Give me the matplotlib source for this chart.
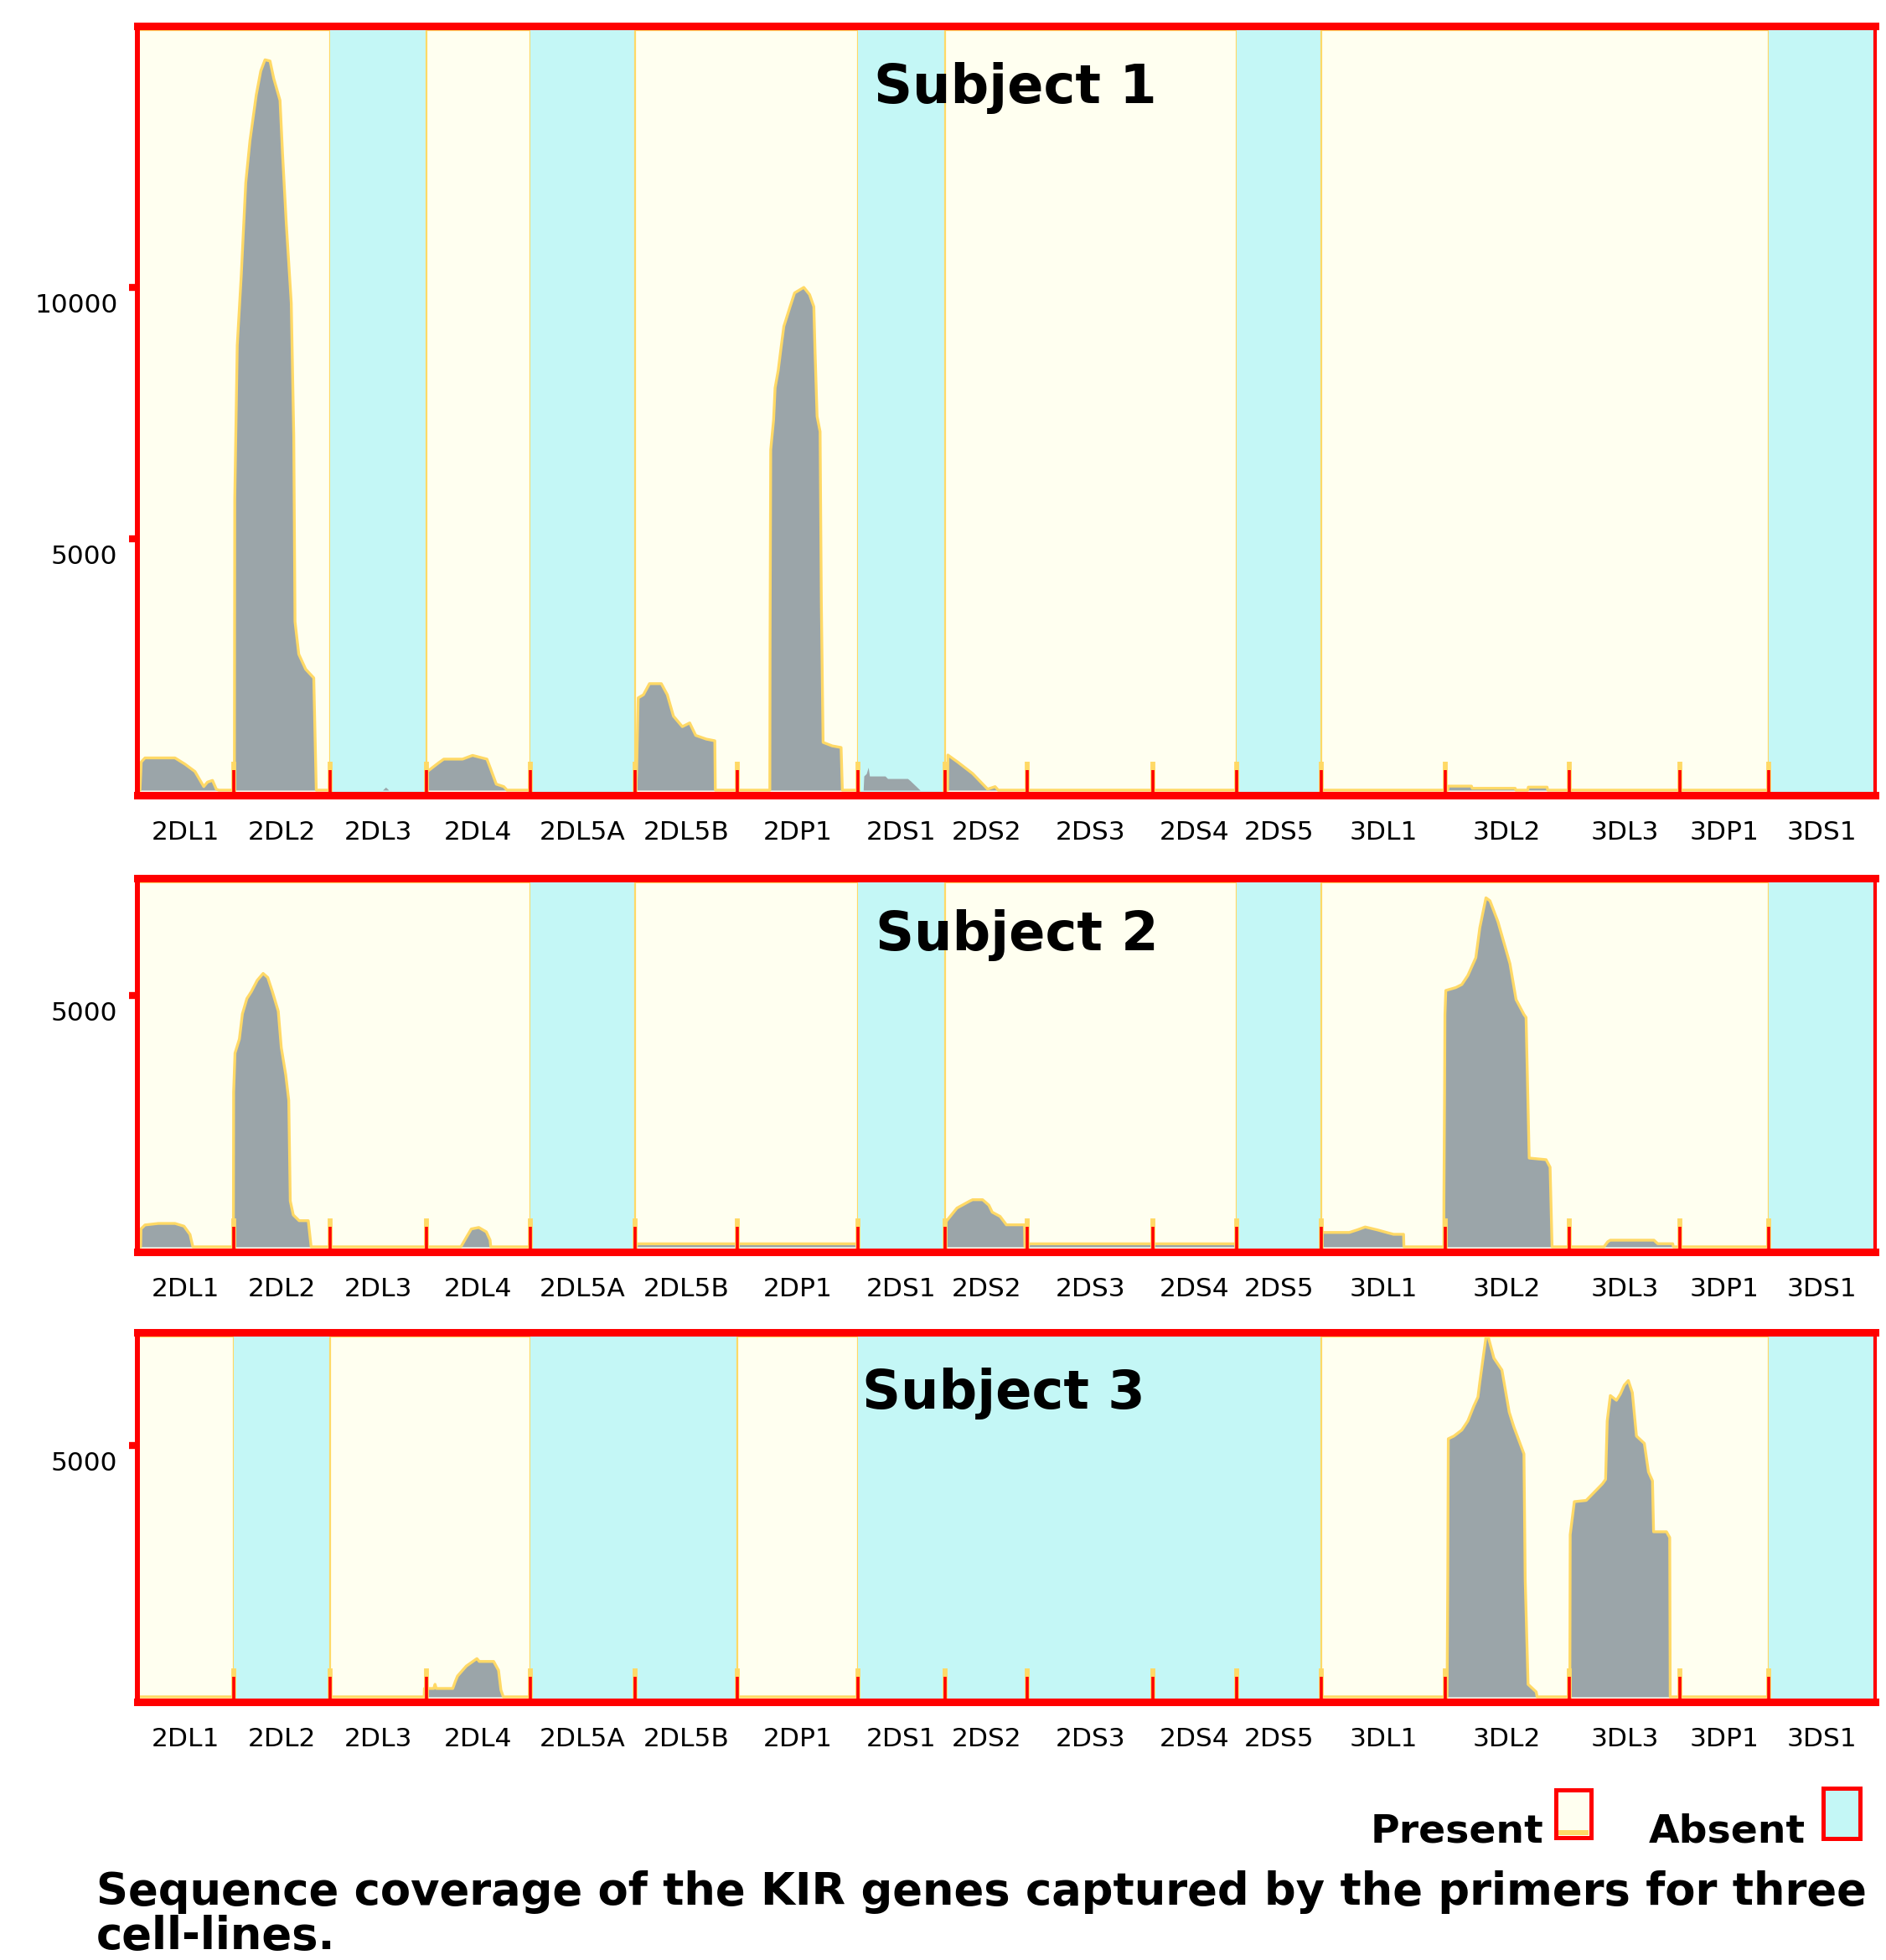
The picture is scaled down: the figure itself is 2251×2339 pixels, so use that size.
# Sequence coverage of the KIR genes for three cell-lines
import numpy as np
import matplotlib.pyplot as plt
from matplotlib.patches import Rectangle
from matplotlib.transforms import ScaledTranslation

genes = ["2DL1", "2DL2", "2DL3", "2DL4", "2DL5A", "2DL5B", "2DP1", "2DS1",
         "2DS2", "2DS3", "2DS4", "2DS5", "3DL1", "3DL2", "3DL3", "3DP1", "3DS1"]
# length of each gene on the concatenated reference (arbitrary units)
gene_len = [77, 77, 77, 83, 84, 82, 96, 70, 66, 100, 67, 68, 99, 99, 89, 71, 85]

# 1 = present, 0 = absent
present_s1 = [1, 1, 0, 1, 0, 1, 1, 0, 1, 1, 1, 0, 1, 1, 1, 1, 0]
present_s2 = [1, 1, 1, 1, 0, 1, 1, 0, 1, 1, 1, 0, 1, 1, 1, 1, 0]
present_s3 = [1, 0, 1, 1, 0, 0, 1, 0, 0, 0, 0, 0, 1, 1, 1, 1, 0]

# coverage profiles: position along reference, read depth
s1_pos = [0,
          2, 3, 6, 30, 38, 46, 53, 56, 60, 63, 65,
          77.5, 77.8, 79.8, 83, 86.6, 90, 95, 98.6, 102, 106, 109, 114, 116, 119, 123, 125, 126, 129, 134.5, 141, 143,
          196, 198.5, 201,
          231.5, 231.7, 240.8, 245, 260, 268, 279.5, 282, 287, 293, 295.6,
          398.6, 399.2, 400, 400.5, 404.7, 409.5, 419, 423.8, 428.7, 435.8, 441.7, 446.5, 455, 461.8, 462.2,
          505.8, 506, 506.5, 508.8, 510, 512.5, 515, 517, 522, 525.6, 533, 537.6, 541, 542, 543.6, 546, 547, 548.4, 555.7, 562.8, 563.8,
          580.5, 581, 583, 584.5, 585.5, 598, 600, 616, 618, 626,
          648, 648.2, 656, 668, 680, 686, 688.5,
          1048, 1048.5, 1067, 1067.6, 1102, 1102.5, 1112, 1112.5, 1127.5, 1128,
          1390]
s1_depth = [0,
            0, 560, 641, 641, 517, 370, 70, 160, 194, 20, 0,
            0, 5787, 8845, 10240, 12079, 12924, 13827, 14302, 14526, 14501, 14153, 13718, 12670, 11278, 9686, 7051, 3351, 2705, 2406, 2232, 0,
            0, 60, 0,
            0, 368, 542, 617, 617, 691, 617, 455, 119, 70, 0,
            0, 343, 1300, 1835, 1897, 2118, 2118, 1897, 1472, 1263, 1337, 1089, 1015, 982, 0,
            0, 3000, 6769, 7364, 8000, 8348, 8845, 9223, 9616, 9889, 9999, 9855, 9616, 8696, 7431, 7130, 3724, 950, 880, 848, 0,
            0, 281, 330, 455, 281, 281, 231, 231, 190, 0,
            0, 699, 560, 330, 20, 70, 0,
            0, 80, 80, 37, 37, 0, 0, 60, 60, 0,
            0]

s2_pos = [0,
          2.5, 2.8, 6, 16.7, 30, 37.2, 42, 44.3,
          76.7, 76.9, 78, 81.5, 83.9, 87.5, 91.1, 95.8, 100.5, 104.2, 107.9, 112.6, 115, 118.6, 121, 122.2, 124.6, 129.3, 136.6, 138.9,
          258.7, 263, 267, 273, 279, 282, 282.6,
          399, 399.5, 575, 575.5,
          645.3, 645.5, 655.5, 665.7, 668, 676, 681, 683.7, 690, 695, 709.5, 709.8,
          712.5, 713, 878, 878.5,
          947, 947.2, 969.3, 976, 982, 991.9, 1000, 1004.7, 1012.7, 1013,
          1044.9, 1045, 1045.5, 1045.8, 1046.5, 1054.5, 1059.3, 1064.1, 1070.5, 1073.7, 1078.6, 1081.8, 1088.2, 1093, 1097.8, 1102.7, 1109, 1110.7, 1113.2, 1126.7, 1129.9, 1131.5,
          1173, 1176, 1178, 1213, 1216, 1228, 1228.5,
          1390]
s2_depth = [0,
            0, 356, 435, 465, 465, 410, 246, 0,
            0, 3078, 3853, 4132, 4631, 4937, 5076, 5300, 5437, 5355, 5076, 4686, 3965, 3418, 2911, 912, 634, 520, 520, 0,
            0, 186, 355, 385, 298, 137, 0,
            0, 60, 60, 0,
            0, 465, 771, 910, 937, 937, 828, 689, 604, 438, 438, 0,
            0, 60, 60, 0,
            0, 286, 286, 340, 395, 336, 280, 249, 249, 0,
            0, 989, 3070, 4621, 5098, 5156, 5216, 5394, 5750, 6347, 6941, 6882, 6466, 6049, 5631, 4917, 4621, 4561, 1765, 1733, 1584, 0,
            0, 100, 132, 132, 62, 62, 0,
            0]

s3_pos = [0,
          229.3, 229.5, 237, 238, 239, 252.2, 254.2, 256, 263, 271.5, 273.4, 284.9, 288.8, 290.7, 292.6,
          1047.5, 1048.1, 1048.5, 1053, 1059.3, 1064.1, 1068.9, 1072.2, 1073.7, 1078.6, 1080.2, 1085, 1091.4, 1097.2, 1101, 1109, 1110, 1112.3, 1118.8, 1119.5,
          1145.7, 1146, 1149.3, 1158.8, 1163.7, 1171.8, 1174.3, 1175.6, 1178.1, 1183, 1186.1, 1189.3, 1192.5, 1195.7, 1199, 1205.3, 1208.6, 1211.8, 1212.7, 1223, 1225.6, 1226,
          1390]
s3_depth = [0,
            0, 167, 167, 250, 167, 167, 306, 415, 612, 761, 704, 704, 527, 137, 0,
            0, 2500, 5134, 5188, 5308, 5487, 5785, 5964, 6260, 7155, 7182, 6737, 6501, 5666, 5367, 4833, 2333, 249, 99, 0,
            0, 3227, 3883, 3908, 4032, 4239, 4326, 5487, 5994, 5900, 6024, 6203, 6292, 6053, 5188, 5042, 4475, 4298, 3284, 3284, 3170, 0,
            0]

titles = ["Subject 1", "Subject 2", "Subject 3"]
yticks_s1 = [5000, 10000]
yticks_s2 = [5000]
yticks_s3 = [5000]

RED = "#FF0000"
CREAM = "#FFFFF0"
CYAN = "#C4F7F6"
GOLD = "#FFD966"
GREY = "#9BA5A9"

bounds = np.concatenate([[0], np.cumsum(gene_len)])
centers = (bounds[:-1] + bounds[1:]) / 2

fig = plt.figure(figsize=(22.51, 23.39), dpi=100)


def draw_panel(rect, pos, depth, present, ytop, yticks):
    ax = fig.add_axes(rect)
    ybot = -100
    ax.set_xlim(0, bounds[-1])
    ax.set_ylim(ybot, ytop)
    ax.set_axisbelow(False)

    # group neighbouring genes with the same status into one band
    runs = []
    i = 0
    while i < len(present):
        j = i
        while j + 1 < len(present) and present[j + 1] == present[i]:
            j += 1
        runs.append((bounds[i], bounds[j + 1], present[i]))
        i = j + 1

    for x0, x1, p in runs:
        if p:
            ax.add_patch(Rectangle((x0, ybot), x1 - x0, ytop - 90 - ybot,
                                   facecolor=CREAM, edgecolor=GOLD, lw=1.6, zorder=0))
        else:
            ax.add_patch(Rectangle((x0, ybot), x1 - x0, ytop - ybot,
                                   facecolor=CYAN, edgecolor="none", zorder=0))

    ax.fill_between(pos, depth, 0, color=GREY, lw=0, zorder=1)

    # golden outline only inside the "present" bands
    for x0, x1, p in runs:
        if p:
            line, = ax.plot(pos, depth, color=GOLD, lw=2.4, zorder=1.5)
            clip = Rectangle((x0, ybot), x1 - x0, ytop - ybot, transform=ax.transData)
            line.set_clip_path(clip)

    ax.vlines(bounds[1:-1], ybot, 560, colors=GOLD, lw=4.2, zorder=2.3)

    for side in ["top", "bottom"]:
        ax.spines[side].set_linewidth(6.5)
    ax.spines["left"].set_linewidth(4.3)
    ax.spines["right"].set_linewidth(3)
    for s in ax.spines.values():
        s.set_color(RED)

    ax.set_xticks(bounds[1:-1])
    ax.set_xticklabels([])
    ax.tick_params(axis="x", which="major", direction="in", length=21.5,
                   width=2.6, color=RED)
    ax.set_xticks(centers, minor=True)
    ax.set_xticklabels(genes, minor=True, fontsize=22.5)
    ax.tick_params(axis="x", which="minor", length=0, pad=21.5)

    ax.set_yticks(yticks)
    ax.set_yticklabels([str(v) for v in yticks], fontsize=22.5)
    ax.tick_params(axis="y", direction="out", length=7, width=6, color=RED, pad=10)
    offset = ScaledTranslation(0, -13.5 / 72, fig.dpi_scale_trans)
    for lbl in ax.get_yticklabels():
        lbl.set_transform(lbl.get_transform() + offset)
    return ax


draw_panel([0.0729, 0.5943, 0.9214, 0.3925], s1_pos, s1_depth, present_s1, 15200, yticks_s1)
draw_panel([0.0729, 0.3613, 0.9214, 0.1907], s2_pos, s2_depth, present_s2, 7333, yticks_s2)
draw_panel([0.0729, 0.1317, 0.9214, 0.1885], s3_pos, s3_depth, present_s3, 7250, yticks_s3)

fig.text(0.5384, 0.9474, titles[0], fontsize=46, weight="bold", ha="center", va="baseline")
fig.text(0.5391, 0.5153, titles[1], fontsize=46, weight="bold", ha="center", va="baseline")
fig.text(0.5322, 0.2813, titles[2], fontsize=46, weight="bold", ha="center", va="baseline")

# legend
fig.text(0.7268, 0.0599, "Present", fontsize=34, weight="bold", va="baseline")
fig.text(0.8743, 0.0599, "Absent", fontsize=34, weight="bold", va="baseline")
fig.add_artist(Rectangle((0.8262, 0.0636), 0.01626, 0.0026, transform=fig.transFigure,
                         facecolor=GOLD, edgecolor="none", zorder=1))
fig.add_artist(Rectangle((0.8250, 0.0624), 0.01866, 0.02437, transform=fig.transFigure,
                         facecolor="none", edgecolor=RED, lw=3.6, zorder=2))
fig.add_artist(Rectangle((0.8250, 0.0624), 0.01866, 0.02437, transform=fig.transFigure,
                         facecolor=CREAM, edgecolor="none", zorder=0))
fig.add_artist(Rectangle((0.9667, 0.0620), 0.01955, 0.02565, transform=fig.transFigure,
                         facecolor=CYAN, edgecolor=RED, lw=3.6))

# caption
fig.text(0.0511, 0.0282, "Sequence coverage of the KIR genes captured by the primers for three",
         fontsize=38, weight="bold", va="baseline")
fig.text(0.0511, 0.0056, "cell-lines.", fontsize=38, weight="bold", va="baseline")

fig.savefig("out.png", dpi=100)
